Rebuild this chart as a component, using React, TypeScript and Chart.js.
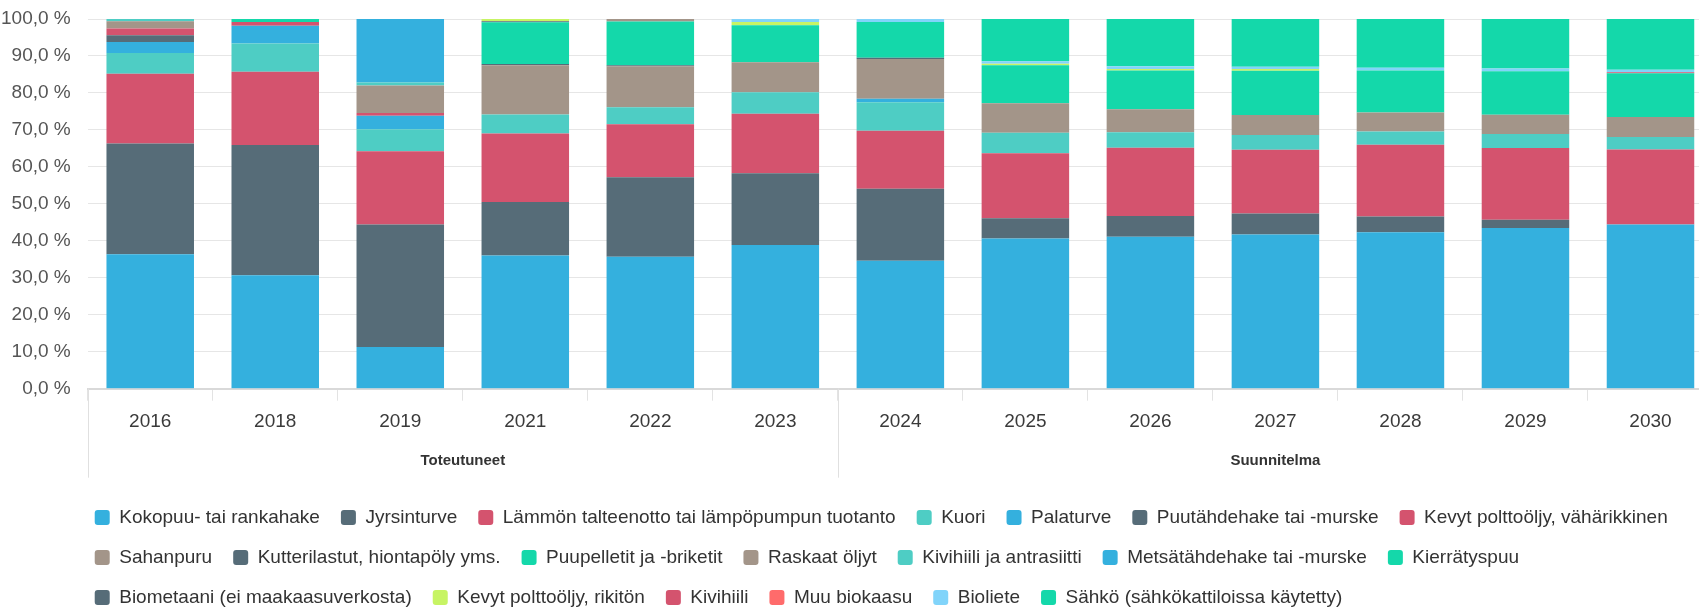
import React, { useEffect, useRef } from 'react';
import { Chart, registerables } from 'chart.js';

Chart.register(...registerables);

// ---------- data ----------
const years = ['2016', '2018', '2019', '2021', '2022', '2023', '2024', '2025', '2026', '2027', '2028', '2029', '2030'];
const groupLabels = ['Toteutuneet', 'Suunnitelma'];
const groupSizes = [6, 7];

const _ = null;
const kokopuu = [36.4, 30.7, 11.3, 36.0, 35.7, 38.9, 34.6, 40.6, 41.1, 41.7, 42.3, 43.5, 44.4];
const jyrsinturve = [29.9, 35.2, 33.1, 14.5, 21.5, 19.4, 19.5, 5.5, 5.6, 5.7, 4.3, 2.2, _];
const lammonTalteenotto = [18.9, 19.8, 19.8, 18.5, 14.3, 16.1, 15.7, 17.6, 18.5, 17.2, 19.4, 19.4, 20.3];
const kuori = [5.6, 7.7, 6.0, 5.2, 4.6, 5.8, 7.7, 5.5, 4.2, 4.0, 3.6, 3.8, 3.4];
const palaturve = [3.0, 4.8, 3.6, _, _, _, 0.9, _, _, _, _, _, _];
const puutahdehake = [1.8, _, _, _, _, _, _, _, _, _, _, _, _];
const kevytVaharikkinen = [1.8, 1.0, 0.8, _, _, _, _, _, _, _, _, _, _];
const sahanpuru = [2.0, _, 7.4, 13.3, 11.1, 8.1, 10.8, 8.0, 6.2, 5.4, 5.1, 5.2, 5.4];
const kutterilastut = [_, _, _, 0.3, 0.3, _, 0.3, _, _, _, _, _, _];
const puupelletit = [_, 0.8, _, 11.3, 11.8, 10.0, 9.7, 10.3, 10.5, 12.0, 11.4, 11.8, 11.8];
const raskaatOljyt = [_, _, _, _, 0.7, _, _, _, _, _, _, _, _];
const kivihiiliAntrasiitti = [0.6, _, 0.8, _, _, _, _, _, _, _, _, _, _];
const metsatahdehake = [_, _, 17.2, _, _, _, _, _, _, _, _, _, _];
const kierratyspuu = [_, _, _, _, _, _, _, _, _, _, _, _, _];
const biometaani = [_, _, _, 0.3, _, _, _, _, _, _, _, _, _];
const kevytRikiton = [_, _, _, 0.6, _, 0.9, _, 0.4, 0.4, 0.5, _, _, _];
const kivihiili = [_, _, _, _, _, _, _, _, _, _, _, _, 0.3];
const muuBiokaasu = [_, _, _, _, _, _, _, _, _, _, _, _, _];
const bioliete = [_, _, _, _, _, 0.8, 0.8, 0.7, 0.7, 0.6, 0.7, 0.7, 0.7];
const sahko = [_, _, _, _, _, _, _, 11.4, 12.8, 12.9, 13.2, 13.4, 13.7];

// ---------- colours ----------
const BLUE = '#34b0de';
const SLATE = '#566c78';
const RED = '#d4536e';
const TEAL = '#4ecdc4';
const BROWN = '#a39589';
const GREEN = '#14d8aa';
const LIME = '#c7f464';
const SALMON = '#ff6b6b';
const LIGHTBLUE = '#81d4fa';

const series = [
  { label: 'Kokopuu- tai rankahake', data: kokopuu, color: BLUE },
  { label: 'Jyrsinturve', data: jyrsinturve, color: SLATE },
  { label: 'Lämmön talteenotto tai lämpöpumpun tuotanto', data: lammonTalteenotto, color: RED },
  { label: 'Kuori', data: kuori, color: TEAL },
  { label: 'Palaturve', data: palaturve, color: BLUE },
  { label: 'Puutähdehake tai -murske', data: puutahdehake, color: SLATE },
  { label: 'Kevyt polttoöljy, vähärikkinen', data: kevytVaharikkinen, color: RED },
  { label: 'Sahanpuru', data: sahanpuru, color: BROWN },
  { label: 'Kutterilastut, hiontapöly yms.', data: kutterilastut, color: SLATE },
  { label: 'Puupelletit ja -briketit', data: puupelletit, color: GREEN },
  { label: 'Raskaat öljyt', data: raskaatOljyt, color: BROWN },
  { label: 'Kivihiili ja antrasiitti', data: kivihiiliAntrasiitti, color: TEAL },
  { label: 'Metsätähdehake tai -murske', data: metsatahdehake, color: BLUE },
  { label: 'Kierrätyspuu', data: kierratyspuu, color: GREEN },
  { label: 'Biometaani (ei maakaasuverkosta)', data: biometaani, color: SLATE },
  { label: 'Kevyt polttoöljy, rikitön', data: kevytRikiton, color: LIME },
  { label: 'Kivihiili', data: kivihiili, color: RED },
  { label: 'Muu biokaasu', data: muuBiokaasu, color: SALMON },
  { label: 'Bioliete', data: bioliete, color: LIGHTBLUE },
  { label: 'Sähkö (sähkökattiloissa käytetty)', data: sahko, color: GREEN },
];

// group centres / boundaries in category-index units
const groupStarts = groupSizes.map((_s, i) => groupSizes.slice(0, i).reduce((a, b) => a + b, 0));
const groupCenters = groupSizes.map((s, i) => groupStarts[i] + (s - 1) / 2);
const groupBoundaries = groupStarts.map((s) => s - 0.5);

const CANVAS_W = 1714;
const CANVAS_H = 617;
const FONT = "'Liberation Sans', Arial, Helvetica, sans-serif";

const groupAxisPlugin = {
  id: 'groupAxis',
  afterDraw(chart: any) {
    const x = chart.scales.x;
    const ctx = chart.ctx;
    ctx.save();
    ctx.strokeStyle = '#e0e0e0';
    ctx.lineWidth = 1;
    for (const b of groupBoundaries) {
      const px = Math.round(x.getPixelForValue(b)) + 0.5;
      ctx.beginPath();
      ctx.moveTo(px, x.top);
      ctx.lineTo(px, x.top + 89);
      ctx.stroke();
    }
    ctx.fillStyle = '#333';
    ctx.font = `bold 15px ${FONT}`;
    ctx.textAlign = 'center';
    ctx.textBaseline = 'middle';
    groupLabels.forEach((lbl, i) => {
      ctx.fillText(lbl, x.getPixelForValue(groupCenters[i]), x.top + 72);
    });
    ctx.restore();
  },
};

const legendShiftPlugin = {
  id: 'legendShift',
  beforeDraw(chart: any) {
    const lg = chart.legend;
    if (lg) lg.left = chart.chartArea.left - 14;
  },
};

export default function App() {
  const ref = useRef<HTMLCanvasElement | null>(null);

  useEffect(() => {
    if (!ref.current) return;
    Chart.defaults.font.family = FONT;
    Chart.defaults.color = '#333';
    const chart = new Chart(ref.current, {
      type: 'bar',
      data: {
        labels: years,
        datasets: series.map((s) => ({
          label: s.label,
          data: s.data,
          backgroundColor: s.color,
          borderColor: s.color,
          borderWidth: 0,
          categoryPercentage: 0.7,
          barPercentage: 1.0,
        })),
      },
      options: {
        animation: false,
        responsive: true,
        maintainAspectRatio: false,
        layout: { padding: { top: 19, left: 1, right: 1, bottom: 0 } },
        plugins: {
          tooltip: { enabled: false },
          legend: {
            position: 'bottom',
            align: 'start',
            labels: {
              boxWidth: 15,
              boxHeight: 15,
              padding: 21,
              useBorderRadius: true,
              borderRadius: 3,
              color: '#333',
              font: { size: 19, family: FONT },
            },
          },
        },
        scales: {
          x: {
            stacked: true,
            offset: true,
            grid: {
              offset: true,
              drawOnChartArea: false,
              drawTicks: true,
              tickLength: 12,
              color: '#e3e3e3',
            },
            border: { display: true, color: '#d9d9d9', width: 2 },
            ticks: {
              autoSkip: false,
              maxRotation: 0,
              padding: 10,
              color: '#3a3a3a',
              font: { size: 19, family: FONT },
            },
            title: {
              display: true,
              text: ' ',
              font: { size: 10 },
              padding: { top: 31.5, bottom: 0 },
            },
          },
          y: {
            stacked: true,
            min: 0,
            max: 100,
            grid: {
              color: '#e6e6e6',
              lineWidth: 1,
              drawTicks: true,
              tickLength: 17,
              tickColor: 'rgba(0,0,0,0)',
            },
            border: { display: false },
            ticks: {
              stepSize: 10,
              padding: 0,
              color: '#555',
              font: { size: 19, family: FONT },
              callback: (v: any) => Number(v).toFixed(1).replace('.', ',') + ' %',
            },
          },
        },
      } as any,
      plugins: [groupAxisPlugin, legendShiftPlugin],
    });
    return () => chart.destroy();
  }, []);

  return (
    <div
      style={{
        position: 'fixed',
        left: 0,
        top: 0,
        width: 1699,
        height: 607,
        overflow: 'hidden',
        background: '#ffffff',
      }}
    >
      <div style={{ position: 'relative', width: CANVAS_W, height: CANVAS_H }}>
        <canvas ref={ref} />
      </div>
    </div>
  );
}
